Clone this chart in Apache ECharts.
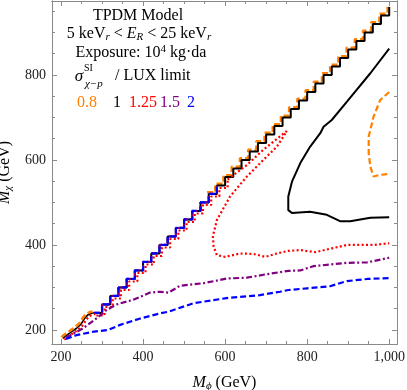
<!DOCTYPE html>
<html>
<head>
<meta charset="utf-8">
<script src="https://cdn.jsdelivr.net/npm/echarts@6/dist/echarts.min.js"></script>
<style>
html, body { margin: 0; padding: 0; background: #fff; }
#chart-div { width: 407px; height: 390px; }
</style>
</head>
<body>
<div id="chart-div"></div>
<script>
// ticks
const xTicks = [200, 400, 600, 800, 1000]
const xMinor = [250, 300, 350, 450, 500, 550, 650, 700, 750, 850, 900, 950]
const yTicks = [200, 400, 600, 800]
const yMinor = [250, 300, 350, 450, 500, 550, 650, 700, 750, 850, 900, 950]

// contour levels (sigma / LUX limit)
const levels = ['0.8', '1', '1.25', '1.5', '2']

// staircase along the kinematic edge (grid of 20 GeV)
const stairX = [280, 300, 320, 340, 360, 380, 400, 420, 440, 460, 480, 500, 520, 540, 560, 580, 600, 620, 640,
    660, 680, 700, 720, 740, 760, 780, 800, 820, 840, 860, 880, 900, 920, 940, 960, 980, 1000]
const stairY = [240, 260, 280, 300, 320, 340, 360, 380, 400, 420, 440, 460, 480, 500, 520, 540, 560, 580, 600,
    620, 640, 660, 680, 700, 720, 740, 760, 780, 800, 820, 840, 860, 880, 900, 920, 940, 960]

// wiggly part at low masses
const diagX = [204, 214, 226, 238, 248, 258, 266, 276, 280]
const diagY = [180, 188, 196, 204, 213, 228, 236, 240, 240]

// 0.8 (orange)
const orangeX = [1000, 978, 962, 950, 950, 954, 962, 978, 1000]
const orangeY = [760, 741, 702, 655, 616, 584, 561, 565, 567]

// 1 (black)
const blackX = [1000, 954, 897, 860, 840, 832, 807, 783, 763, 754, 754, 763, 807, 848, 880, 905, 954, 1000]
const blackY = [862, 804, 737, 694, 678, 663, 631, 592, 549, 514, 482, 475, 478, 471, 456, 456, 464, 465]

// 1.25 (red)
const redX = [606, 653, 693, 718, 750, 742, 726, 693, 653, 612, 580, 570, 572, 580, 600, 637, 669, 698, 726,
    754, 783, 820, 860, 897, 962, 1000]
const redY = [554, 588, 624, 643, 668, 655, 631, 600, 561, 514, 459, 420, 396, 376, 372, 380, 379, 372, 380,
    386, 388, 383, 392, 400, 400, 404]

// 1.5 (purple)
const purpleX = [212, 254, 290, 311, 335, 376, 417, 440, 462, 490, 547, 604, 653, 700, 754, 783, 815, 897, 946, 1000]
const purpleY = [182, 204, 230, 247, 260, 271, 288, 290, 288, 304, 310, 321, 323, 331, 339, 340, 350, 358, 359, 370]

// 2 (blue)
const blueX = [212, 238, 280, 315, 344, 393, 441, 462, 523, 604, 685, 734, 754, 800, 856, 897, 946, 1000]
const blueY = [179, 188, 196, 200, 212, 227, 239, 243, 263, 275, 282, 290, 294, 298, 303, 315, 320, 322]

const ORANGE = '#ff8000', BLACK = '#000000', RED = '#ff0000', PURPLE = '#800080', BLUE = '#0000ff'
const SERIF = '"Liberation Serif", "DejaVu Serif", serif'

function zip(xs, ys, dx = 0, dy = 0) {
    return xs.map((x, i) => [x + dx, ys[i] + dy])
}

function line(name, pts, color, dash, width, step) {
    return {
        name: name, type: 'line', data: pts, symbol: 'none', showSymbol: false,
        step: step ? 'end' : false, clip: false, silent: true, animation: false,
        lineStyle: { color: color, width: width, type: dash, cap: 'butt' }
    }
}

const DASH = [6, 3], DOT = [2, 2.4], DASHDOT = [6, 2.5, 2, 2.5]

const series = [
    // staircases first (underneath)
    line(levels[0], zip(stairX.slice(14), stairY.slice(14), -4, 4), ORANGE, DASH, 2.4, true),
    line(levels[1], zip(stairX, stairY), BLACK, 'solid', 2, true),
    line(levels[2], zip(stairX.slice(0, 17), stairY.slice(0, 17), 6, -6), RED, DOT, 2.2, true),
    line(levels[3], zip(stairX.slice(0, 16), stairY.slice(0, 16)), PURPLE, DASHDOT, 2.2, true),
    line(levels[4], zip(stairX.slice(0, 16), stairY.slice(0, 16)), BLUE, DASH, 2.2, true),
    // low mass wiggles
    line(levels[1], zip(diagX, diagY), BLACK, 'solid', 1.6, false),
    line(levels[2], zip(diagX, diagY, 4, -3), RED, DOT, 2.2, false),
    line(levels[0], zip(diagX, diagY, -3, 3), ORANGE, DASH, 2.6, false),
    // contours
    line(levels[0], zip(orangeX, orangeY), ORANGE, DASH, 2.2, false),
    line(levels[1], zip(blackX, blackY), BLACK, 'solid', 2, false),
    line(levels[2], zip(redX, redY), RED, DOT, 2.2, false),
    line(levels[3], zip(purpleX, purpleY), PURPLE, DASHDOT, 2.2, false),
    line(levels[4], zip(blueX, blueY), BLUE, DASH, 2.2, false)
]

function valueAxis(dir, pos, range, ticks, len, withLabels, name) {
    const ax = {
        type: 'value', position: pos, min: range[0], max: range[1],
        splitLine: { show: false },
        axisLine: { show: true, lineStyle: { color: '#8a8a8a', width: 1 } },
        axisTick: { show: true, inside: true, length: len, customValues: ticks, lineStyle: { color: '#8a8a8a', width: 1 } },
        axisLabel: { show: withLabels, customValues: ticks, color: '#222', fontFamily: SERIF, fontSize: 14, margin: 6 }
    }
    if (name) {
        ax.name = name
        ax.nameLocation = 'middle'
        ax.nameGap = dir === 'x' ? 29 : 35
        ax.nameRotate = dir === 'x' ? 0 : 90
        ax.nameTextStyle = {
            color: '#000', fontFamily: SERIF, fontSize: 16,
            rich: {
                i: { fontFamily: SERIF, fontSize: 16, fontStyle: 'italic', color: '#000' },
                s: { fontFamily: SERIF, fontSize: 11, fontStyle: 'italic', color: '#000', padding: [8, 0, 0, 0] },
                n: { fontFamily: SERIF, fontSize: 16, color: '#000' }
            }
        }
    }
    return ax
}

const XR = [178, 1019], YR = [167, 974]

function txt(x, y, text, size, color, align, italic) {
    return {
        type: 'text', x: x, y: y, silent: true,
        style: {
            text: text, fill: color, fontFamily: SERIF, fontSize: size,
            fontStyle: italic ? 'italic' : 'normal', align: align, verticalAlign: 'middle',
            rich: {
                it: { fontFamily: SERIF, fontSize: size, fontStyle: 'italic', fill: color },
                sub: { fontFamily: SERIF, fontSize: 11, fontStyle: 'italic', fill: color, padding: [7, 0, 0, 0] },
                sup: { fontFamily: SERIF, fontSize: 11, fill: color, padding: [0, 0, 8, 0] }
            }
        }
    }
}

const legendX = [87, 117, 143, 170, 191]
const legendColors = [ORANGE, BLACK, RED, PURPLE, BLUE]

const graphics = [
    txt(138, 16, 'TPDM Model', 16, '#000', 'center'),
    txt(139, 34, '5 keV{sub|r} < {it|E}{sub|R} < 25 keV{sub|r}', 16, '#000', 'center'),
    txt(141, 53, 'Exposure: 10{sup|4} kg·da', 16, '#000', 'center'),
    txt(79, 77, 'σ', 17, '#000', 'center', true),
    txt(84, 68, 'SI', 10, '#000', 'left'),
    txt(85, 84, 'χ−p', 11, '#000', 'left', true),
    txt(115, 76, '/ LUX limit', 16, '#000', 'left')
]
levels.forEach((lv, i) => graphics.push(txt(legendX[i], 103, lv, 16, legendColors[i], 'center')))

const chart = echarts.init(document.getElementById('chart-div'), null, { renderer: 'canvas' })
chart.setOption({
    animation: false,
    backgroundColor: '#fff',
    grid: { left: 52, right: 10, top: 1, bottom: 46, containLabel: false, outerBoundsMode: 'none' },
    xAxis: [
        valueAxis('x', 'bottom', XR, xTicks, 5, true, '{i|M}{s|ϕ}{n| (GeV)}'),
        valueAxis('x', 'bottom', XR, xMinor, 3, false),
        valueAxis('x', 'top', XR, xTicks, 5, false),
        valueAxis('x', 'top', XR, xMinor, 3, false)
    ],
    yAxis: [
        valueAxis('y', 'left', YR, yTicks, 5, true, '{i|M}{s|χ}{n| (GeV)}'),
        valueAxis('y', 'left', YR, yMinor, 3, false),
        valueAxis('y', 'right', YR, yTicks, 5, false),
        valueAxis('y', 'right', YR, yMinor, 3, false)
    ],
    series: series,
    graphic: graphics
})
</script>
</body>
</html>
